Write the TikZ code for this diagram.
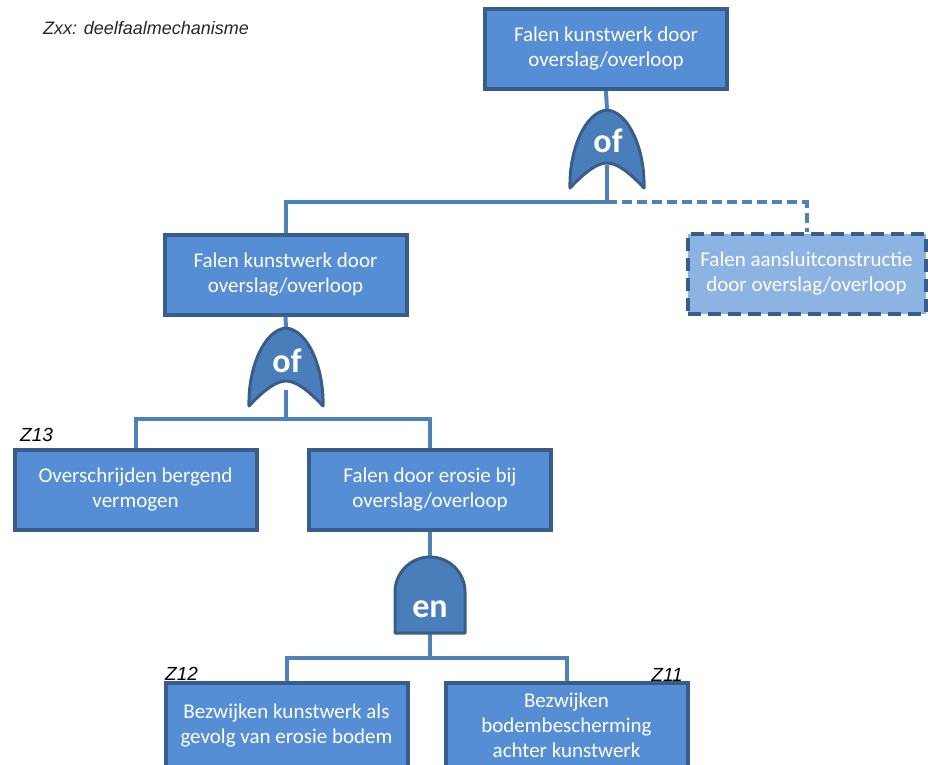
\documentclass[tikz,border=0pt]{standalone}
\usepackage{fontspec}
\setmainfont{Carlito}
\newfontfamily\labfont{Liberation Sans}
\definecolor{boxfill}{HTML}{558ED5}
\definecolor{boxline}{HTML}{385D8A}
\definecolor{gatefill}{HTML}{4A7EBB}
\definecolor{wire}{HTML}{4F81BD}
\definecolor{lightfill}{HTML}{8DB3E2}
\begin{document}
\begin{tikzpicture}[x=1pt,y=-1pt,
  fbox/.style={draw=boxline, line width=4pt, fill=boxfill, text=white, minimum width=242pt, minimum height=80pt, inner sep=0pt, align=center, font=\fontsize{21}{25}\selectfont},
  dbox/.style={fbox, fill=lightfill, dash pattern=on 13pt off 7pt},
  gatetext/.style={text=white, font=\fontsize{34}{34}\selectfont\bfseries, inner sep=0pt, anchor=base},
  gateshape/.style={fill=gatefill, draw=boxline, line width=3pt, line join=round},
  wirestyle/.style={draw=wire, line width=4pt},
  dwire/.style={wirestyle, dash pattern=on 10pt off 5pt},
  zlab/.style={font=\labfont\itshape\fontsize{19}{19}\selectfont, inner sep=0pt},
  orgate/.pic={\path[gateshape] (-37,78) .. controls (-38,40) and (-22,2) .. (0,0) .. controls (22,2) and (38,40) .. (37,78) .. controls (22,62) and (10,53) .. (0,53) .. controls (-10,53) and (-22,62) .. (-37,78) -- cycle;},
  andgate/.pic={\path[gateshape] (-35,76) -- (-35,35) arc[start angle=180,end angle=360,radius=35] -- (35,76) -- cycle;}
]
\useasboundingbox (0,0) rectangle (928,764);

% nodes (boxes)
\node[fbox] (top) at (606,49) {Falen kunstwerk door\\overslag/overloop};
\node[fbox] (mid) at (285.5,275) {Falen kunstwerk door\\overslag/overloop};
\node[dbox, minimum width=238pt] (aans) at (806.5,274) {Falen aansluitconstructie\\door overslag/overloop};
\node[fbox] (over) at (135.5,490) {Overschrijden bergend\\vermogen};
\node[fbox] (eros) at (430,490) {Falen door erosie bij\\overslag/overloop};
\node[fbox, minimum height=84pt] (bez1) at (286.5,725) {Bezwijken kunstwerk als\\gevolg van erosie bodem};
\node[fbox, minimum height=84pt] (bez2) at (566.5,725) {Bezwijken\\bodembescherming\\achter kunstwerk};

% gate anchor points
\coordinate (g1top) at (607,110);
\coordinate (g1bot) at (607,165);
\coordinate (j1) at (607,202);
\coordinate (g2top) at (286,328);
\coordinate (g2bot) at (286,390);
\coordinate (j2) at (286,419);
\coordinate (g3top) at (430,557);
\coordinate (g3bot) at (430,633);
\coordinate (j3) at (430,658);

% wires
\draw[wirestyle] (top.south) -- (g1top);
\draw[wirestyle] (g1bot) -- (j1) -| (mid.north);
\draw[dwire] (j1) -| (aans.north);
\draw[wirestyle] (mid.south) -- (g2top);
\draw[wirestyle] (g2bot) -- (j2) -| (over.north);
\draw[wirestyle] (j2) -| (eros.north);
\draw[wirestyle] (eros.south) -- (g3top);
\draw[wirestyle] (g3bot) -- (j3) -| (bez1.north);
\draw[wirestyle] (j3) -| (bez2.north);

% redraw boxes over wire ends
\node[fbox] at (top) {Falen kunstwerk door\\overslag/overloop};
\node[fbox] at (mid) {Falen kunstwerk door\\overslag/overloop};
\node[dbox, minimum width=238pt] at (aans) {Falen aansluitconstructie\\door overslag/overloop};
\node[fbox] at (over) {Overschrijden bergend\\vermogen};
\node[fbox] at (eros) {Falen door erosie bij\\overslag/overloop};
\node[fbox, minimum height=84pt] at (bez1) {Bezwijken kunstwerk als\\gevolg van erosie bodem};
\node[fbox, minimum height=84pt] at (bez2) {Bezwijken\\bodembescherming\\achter kunstwerk};

% gates
\pic at (g1top) {orgate};
\node[gatetext] (g1) at (608,152) {of};
\pic at (g2top) {orgate};
\node[gatetext] (g2) at (287,372) {of};
\pic at (g3top) {andgate};
\node[gatetext] (g3) at (430,617) {en};

% labels
\node[zlab, anchor=base west] (z13) at (20,441) {Z13};
\node[zlab, anchor=base west] (z12) at (165,680) {Z12};
\node[zlab, anchor=base east] (z11) at (683,681) {Z11};
\node[anchor=base west, inner sep=0pt, text=black!85, font=\labfont\itshape\fontsize{18}{18}\selectfont] (legend) at (43,34) {Zxx: deelfaalmechanisme};
\end{tikzpicture}
\end{document}
